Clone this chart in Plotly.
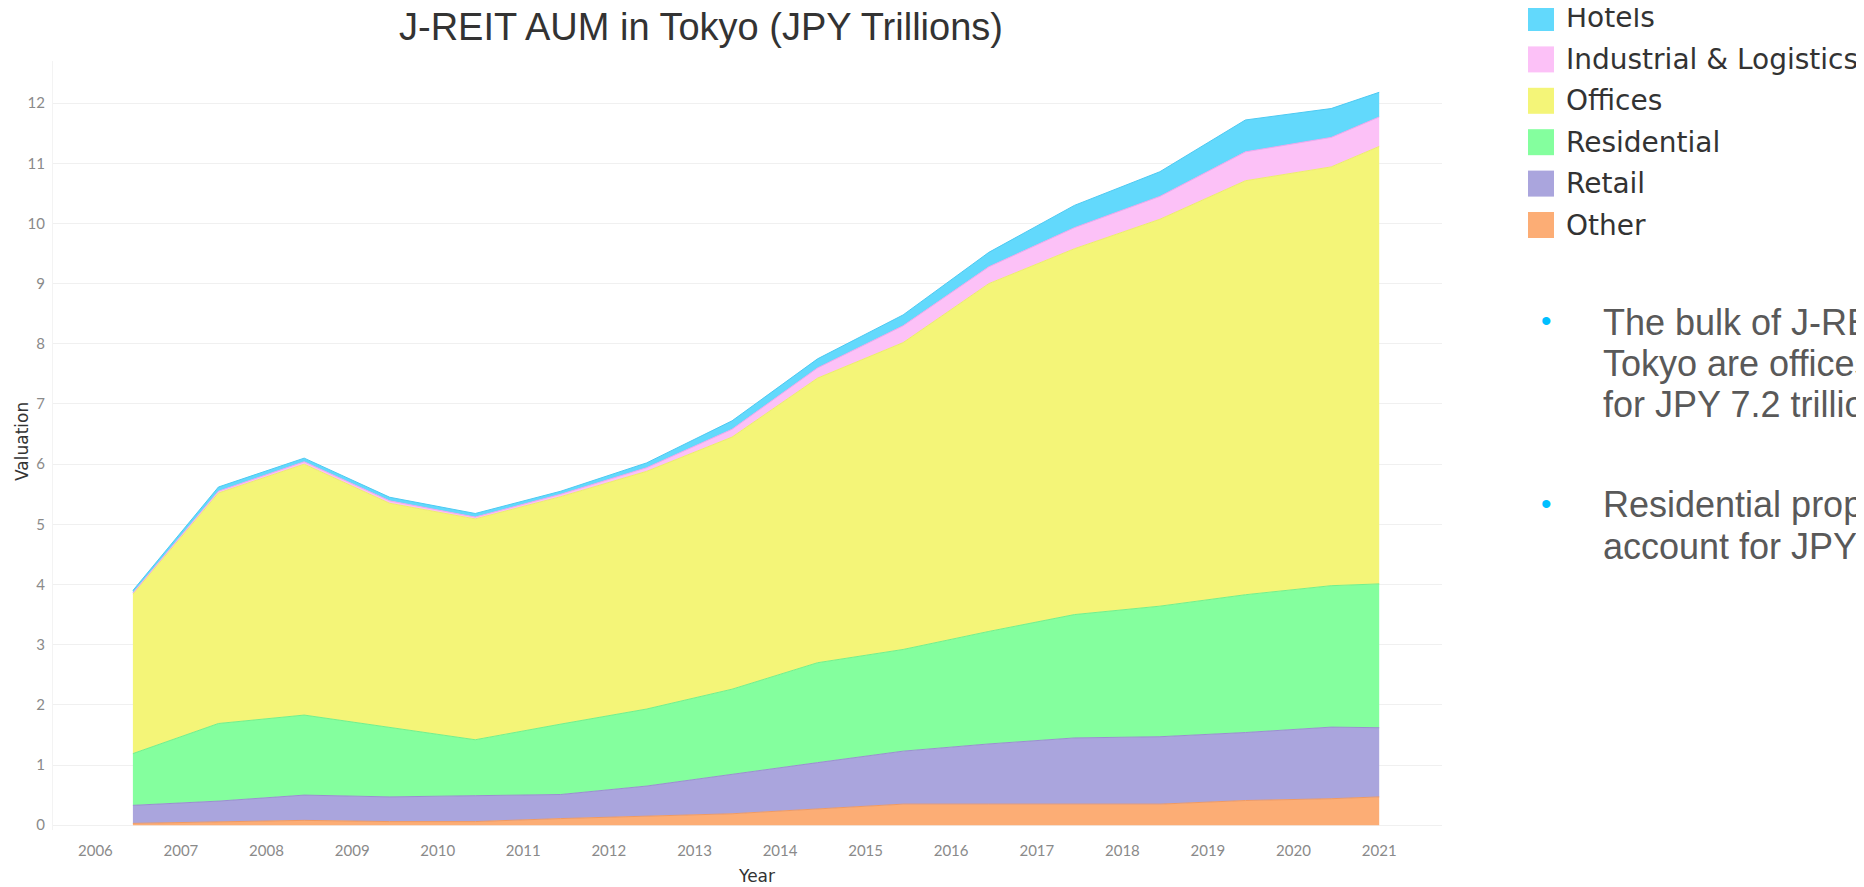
import plotly.graph_objects as go

# ---------------- data ----------------
dates = ["2006-06-10", "2007-06-10", "2008-06-10", "2009-06-10", "2010-06-10",
         "2011-06-10", "2012-06-10", "2013-06-10", "2014-06-10", "2015-06-10",
         "2016-06-10", "2017-06-10", "2018-06-10", "2019-06-10", "2020-06-10",
         "2021-01-01"]

other       = [0.03, 0.05, 0.08, 0.06, 0.06, 0.11, 0.15, 0.19, 0.27, 0.35, 0.35, 0.35, 0.35, 0.41, 0.44, 0.47]
retail      = [0.30, 0.35, 0.42, 0.41, 0.43, 0.40, 0.50, 0.66, 0.77, 0.88, 1.00, 1.10, 1.12, 1.13, 1.19, 1.15]
residential = [0.86, 1.29, 1.33, 1.15, 0.93, 1.17, 1.28, 1.41, 1.66, 1.69, 1.87, 2.05, 2.17, 2.29, 2.35, 2.39]
offices     = [2.65, 3.83, 4.17, 3.73, 3.67, 3.78, 3.95, 4.19, 4.73, 5.10, 5.78, 6.08, 6.43, 6.88, 6.96, 7.27]
industrial  = [0.02, 0.03, 0.04, 0.04, 0.03, 0.04, 0.06, 0.13, 0.17, 0.28, 0.28, 0.35, 0.38, 0.48, 0.49, 0.49]
hotels      = [0.04, 0.07, 0.06, 0.06, 0.06, 0.05, 0.08, 0.14, 0.15, 0.18, 0.24, 0.37, 0.41, 0.53, 0.48, 0.41]

series_names = ["Other", "Retail", "Residential", "Offices", "Industrial & Logistics", "Hotels"]
series_values = [other, retail, residential, offices, industrial, hotels]
legend_order = ["Hotels", "Industrial & Logistics", "Offices", "Residential", "Retail", "Other"]

title_text = "J-REIT AUM in Tokyo (JPY Trillions)"
bullet_1 = ["The bulk of J-RE", "Tokyo are offices", "for JPY 7.2 trillio"]
bullet_2 = ["Residential prop", "account for JPY"]

# ---------------- styles ----------------
fill_colors = {
    "Hotels": "#62D9FC",
    "Industrial & Logistics": "#FCC1F7",
    "Offices": "#F4F578",
    "Residential": "#84FF9E",
    "Retail": "#AAA5DD",
    "Other": "#FCAD75",
}
line_colors = {
    "Hotels": "#4CC9F2",
    "Industrial & Logistics": "#F0A6EC",
    "Offices": "#EDEE6A",
    "Residential": "#72F08C",
    "Retail": "#9A8FCF",
    "Other": "#F09A62",
}

# The page body adds an 8px margin, so the figure is drawn 8px smaller
# and all placement below is expressed in on-screen pixel coordinates.
OFF = 8
SW, SH = 1864, 887           # screen size
W, H = SW - OFF, SH - OFF    # figure size
L, R, T, B = 53, 1442, 61, 830   # plot area on screen


def px(x):
    return (x - L) / (R - L)


def py(y):
    return (B - y) / (B - T)


fig = go.Figure()
for name, vals in zip(series_names, series_values):
    fig.add_trace(go.Scatter(
        x=dates, y=vals, name=name, mode="lines", stackgroup="one",
        line=dict(color=line_colors[name], width=1, shape="linear"),
        fillcolor=fill_colors[name], showlegend=False,
    ))

shapes = []
annotations = []

# title
annotations.append(dict(
    text=title_text, xref="paper", yref="paper", x=px(701), y=py(27),
    xanchor="center", yanchor="middle", showarrow=False,
    font=dict(family="Liberation Sans, Arial", size=38, color="#333333"),
))

# axis titles
annotations.append(dict(
    text="Valuation", xref="paper", yref="paper", x=px(22), y=py(442),
    xanchor="center", yanchor="middle", showarrow=False, textangle=-90,
    font=dict(family="DejaVu Sans", size=17, color="#333333"),
))
annotations.append(dict(
    text="Year", xref="paper", yref="paper", x=px(756), y=py(876),
    xanchor="center", yanchor="middle", showarrow=False,
    font=dict(family="DejaVu Sans", size=17, color="#333333"),
))

# custom legend
row0, row_step = 18, 41.4
for i, name in enumerate(legend_order):
    cy = row0 + i * row_step
    shapes.append(dict(
        type="rect", xref="paper", yref="paper",
        x0=px(1528), x1=px(1554), y0=py(cy + 13), y1=py(cy - 13),
        fillcolor=fill_colors[name], line=dict(width=0),
    ))
    annotations.append(dict(
        text=name, xref="paper", yref="paper", x=px(1564), y=py(cy),
        xanchor="left", yanchor="middle", showarrow=False,
        font=dict(family="DejaVu Sans", size=28, color="#333333"),
    ))

# bullet text
text_font = dict(family="Liberation Sans, Arial", size=36, color="#595959")
for lines, y0 in ((bullet_1, 322), (bullet_2, 505)):
    annotations.append(dict(
        text="\u2022", xref="paper", yref="paper", x=px(1547), y=py(y0 - 2),
        xanchor="center", yanchor="middle", showarrow=False,
        font=dict(family="Liberation Sans, Arial", size=30, color="#00BFFF"),
    ))
    for j, line in enumerate(lines):
        annotations.append(dict(
            text=line, xref="paper", yref="paper", x=px(1601), y=py(y0 + j * 41),
            xanchor="left", yanchor="middle", showarrow=False, font=text_font,
        ))

fig.update_layout(
    width=W, height=H, autosize=False,
    margin=dict(l=L - OFF, r=W - (R - OFF), t=T - OFF, b=H - (B - OFF), pad=0),
    paper_bgcolor="white", plot_bgcolor="white",
    shapes=shapes, annotations=annotations,
    hovermode="x unified",
)

fig.update_xaxes(
    type="date", range=["2005-07-04", "2021-09-26"],
    tick0="2006-01-01", dtick="M12", tickformat="%Y",
    showgrid=False, zeroline=False, showline=False,
    ticklabelstandoff=10,
    tickfont=dict(family="Lato, DejaVu Sans", size=15, color="#8a8a8a"),
)
fig.update_yaxes(
    range=[-0.08, 12.7], dtick=1, tick0=0,
    showgrid=True, gridcolor="#f0f0f0", gridwidth=1,
    zeroline=False, showline=True, linecolor="#f3f3f3", linewidth=1,
    ticklabelstandoff=4,
    tickfont=dict(family="Lato, DejaVu Sans", size=15, color="#8a8a8a"),
)

fig.write_html("out.html")
